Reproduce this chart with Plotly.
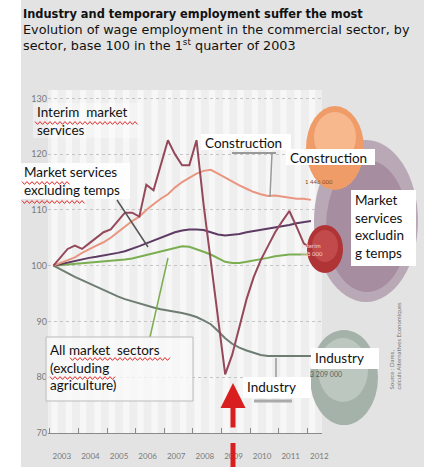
# plot.py

import plotly.graph_objects as go

# ---------------------------------------------------------------------
# DATA: wage employment, base 100 in 2003 Q1 (quarterly, 2003Q1 .. 2012Q1)
# ---------------------------------------------------------------------

quarters = [f"{y}-{m:02d}-15" for y in range(2003, 2013) for m in (2, 5, 8, 11)][:37]

interim = [100, 101.5, 103, 103.6, 103, 104, 105, 106, 106.5, 108, 109.5, 109.5,
           108.8, 114.5, 113.5, 118, 122.5, 120, 118, 118, 122.5, 111, 101, 90,
           80.5, 84, 89, 94, 98, 101, 103.5, 106, 108, 109.8, 107, 104, 103]

construction = [100, 100.5, 101, 101.5, 102.3, 103, 103.6, 104.2, 105, 106, 107, 108,
                108.8, 110, 111, 112, 112.8, 114, 115, 115.8, 116.5, 117, 117.2, 116.5,
                115.8, 115, 114.4, 113.8, 113.2, 112.8, 112.5, 112.6, 112.4, 112.2, 112, 112, 111.8]

services_excl_temps = [100, 100.3, 100.6, 100.9, 101.2, 101.4, 101.6, 101.8, 102, 102.3, 102.6, 103,
                       103.5, 104, 104.5, 105, 105.6, 106, 106.3, 106.5, 106.5, 106.4, 106, 105.6,
                       105.4, 105.5, 105.7, 106, 106.2, 106.4, 106.6, 106.8, 107, 107.3, 107.6, 107.8, 108]

all_sectors = [100, 100.1, 100.2, 100.3, 100.4, 100.5, 100.6, 100.7, 100.8, 100.9, 101.1, 101.3,
               101.6, 101.9, 102.2, 102.5, 102.8, 103.2, 103.5, 103.4, 103, 102.5, 102, 101.3,
               100.7, 100.5, 100.5, 100.7, 100.9, 101.1, 101.4, 101.7, 101.9, 102, 102, 102, 102]

industry = [100, 99.3, 98.6, 98, 97.4, 96.8, 96.2, 95.6, 95, 94.5, 94, 93.6,
            93.2, 92.8, 92.5, 92.2, 92, 91.8, 91.5, 91.2, 90.8, 90.2, 89.5, 88.3,
            87, 86, 85.3, 84.8, 84.4, 84, 83.8, 83.8, 83.9, 83.9, 83.9, 83.8, 83.8]

years = ["2003", "2004", "2005", "2006", "2007", "2008", "2009", "2010", "2011", "2012"]
y_ticks = [70, 80, 90, 100, 110, 120, 130]

headcounts = {"construction": "1 446 000", "interim": "568 000", "industry": "3 209 000"}

# ---------------------------------------------------------------------
# LAYOUT HELPERS (pixel -> paper)
# ---------------------------------------------------------------------

W, H = 424, 467
L, R, T, B = 48, 102, 90, 34
FONT = "Lato"


def px(x):
    return (x - L) / (W - L - R)


def py(y):
    return (H - B - y) / (H - T - B)


series = [
    ("Industry", industry, "#6e7d72"),
    ("All market sectors", all_sectors, "#7aae50"),
    ("Market services excluding temps", services_excl_temps, "#5e3b63"),
    ("Construction", construction, "#e9957f"),
    ("Interim market services", interim, "#94485a"),
]

fig = go.Figure()
for name, values, color in series:
    fig.add_trace(go.Scatter(x=quarters, y=values, mode="lines", name=name,
                             line=dict(color=color, width=2), hoverinfo="skip"))

shapes = []
ann = []

# white margin on the left
shapes.append(dict(type="rect", xref="paper", yref="paper", x0=px(0), x1=px(21),
                   y0=py(0), y1=py(H), fillcolor="white", line_width=0, layer="below"))

# vertical stripes in the plot area
for y in years:
    for a, b in (("01-20", "04-10"), ("07-20", "10-10")):
        shapes.append(dict(type="rect", xref="x", yref="paper", x0=f"{y}-{a}", x1=f"{y}-{b}",
                           y0=0, y1=1, fillcolor="rgba(255,255,255,0.55)", line_width=0,
                           layer="below"))


def ellipse(x0, y0, x1, y1, color):
    return dict(type="circle", xref="paper", yref="paper", x0=px(x0), x1=px(x1),
                y0=py(y0), y1=py(y1), fillcolor=color, line_width=0, layer="above")


# bubbles
shapes += [
    ellipse(314, 140, 418, 302, "#b9a9b6"),
    ellipse(326, 160, 408, 292, "#a68da0"),
    ellipse(306, 106, 364, 190, "#f09c68"),
    ellipse(314, 112, 356, 162, "#f7b88e"),
    ellipse(307, 225, 343, 273, "#b03436"),
    ellipse(312, 230, 338, 262, "#c24a4a"),
    ellipse(310, 330, 378, 425, "#a4b2a9"),
    ellipse(318, 338, 368, 402, "#bcc7c0"),
]


def seg(x0, y0, x1, y1, color, width=1.2):
    return dict(type="line", xref="paper", yref="paper", x0=px(x0), y0=py(y0),
                x1=px(x1), y1=py(y1), line=dict(color=color, width=width), layer="above")


# leader lines from the call-outs
shapes += [
    seg(117, 200, 148, 247, "#555555", 1.5),
    seg(150, 337, 168, 258, "#7aae50", 1.5),
    seg(232, 153, 276, 153, "#999999", 2),
    seg(272, 153, 270, 197, "#999999", 1.5),
    seg(276, 358, 276, 378, "#999999", 1.5),
    seg(254, 401, 292, 401, "#aaaaaa", 3),
]


def label(box, top, text, fill="white", line=None, size=13.5):
    x0, x1, y0, y1 = box
    shapes.append(dict(type="rect", xref="paper", yref="paper", x0=px(x0), x1=px(x1),
                       y0=py(y0), y1=py(y1), fillcolor=fill, layer="above",
                       line=dict(color=line or "rgba(0,0,0,0)", width=1)))
    ann.append(dict(xref="paper", yref="paper", x=px(x0 + 2), y=py(top), xanchor="left",
                    yanchor="top", align="left", showarrow=False, text=text,
                    font=dict(family=FONT, size=size, color="#111111")))


label((33, 140, 103, 138), 102, "Interim  market<br>services", fill="rgba(255,255,255,0.35)")
label((20, 130, 163, 199), 162, "Market services<br>excluding temps", fill="rgba(255,255,255,0.85)")
label((201, 291, 134, 150), 133, "Construction")
label((286, 375, 149, 165), 148, "Construction")
label((351, 416, 190, 266), 190, "Market<br>services<br>excludin<br>g temps")
label((46, 193, 337, 401), 340, "All market  sectors<br>(excluding<br>agriculture)",
      fill="rgba(250,250,250,0.75)", line="#bbbbbb")
label((311, 379, 348, 369), 348, "Industry")
label((243, 311, 377, 398), 377, "Industry")


def squiggle(x0, x1, y, amp=1.4, step=2.5):
    pts = []
    x, up = x0, True
    while x <= x1:
        pts.append(f"{px(x):.4f},{py(y - amp if up else y + amp):.4f}")
        x += step
        up = not up
    return dict(type="path", xref="paper", yref="paper", layer="above",
                path="M" + " L".join(pts), line=dict(color="#e02828", width=1))


# red spell-check underlines
for x0, x1, y in ((35, 138, 123), (22, 70, 183), (22, 86, 202), (70, 172, 359), (50, 117, 378)):
    shapes.append(squiggle(x0, x1, y))

# red arrow shaft below the axis
shapes.append(dict(type="rect", xref="paper", yref="paper", x0=px(230.5), x1=px(235.5),
                   y0=py(443), y1=py(467), fillcolor="#d81e1e", line_width=0, layer="above"))

# ---------------------------------------------------------------------
# TEXT
# ---------------------------------------------------------------------

title_lines = [
    ("<b>Industry and temporary employment suffer the most</b>", 14, 11.4),
    ("Evolution of wage employment in the commercial sector, by", 29.5, 12.8),
    ("sector, base 100 in the 1<sup>st</sup> quarter of 2003", 45, 12.8),
]
for text, yc, size in title_lines:
    ann.append(dict(xref="paper", yref="paper", x=px(21), y=py(yc), xanchor="left",
                    yanchor="middle", align="left", showarrow=False, text=text,
                    font=dict(family="DejaVu Sans", size=size, color="#111111")))

# figures inside the bubbles
ann += [
    dict(xref="paper", yref="paper", x=px(335), y=py(176), showarrow=False,
         text=headcounts["construction"], font=dict(family=FONT, size=6, color="#8a4a20")),
    dict(xref="paper", yref="paper", x=px(325), y=py(249), showarrow=False,
         text="Interim<br>" + headcounts["interim"], font=dict(family=FONT, size=6, color="#f4d0d0")),
    dict(xref="paper", yref="paper", x=px(344), y=py(380), showarrow=False,
         text=headcounts["industry"], font=dict(family=FONT, size=7, color="#556058")),
]

# source, rotated
ann.append(dict(xref="paper", yref="paper", x=px(404), y=py(392), showarrow=False,
                textangle=-90, align="left",
                text="Source : Dares,<br>calculs Alternatives Economiques",
                font=dict(family=FONT, size=6, color="#777777")))

# red arrow pointing at the 2009 trough
ann.append(dict(xref="paper", yref="paper", x=px(233), y=py(383), ax=0, ay=46,
                text="", showarrow=True, arrowhead=2, arrowsize=1, arrowwidth=5,
                arrowcolor="#d81e1e"))

fig.update_layout(shapes=shapes, annotations=ann)

# ---------------------------------------------------------------------
# AXES
# ---------------------------------------------------------------------

fig.update_xaxes(
    type="date",
    range=["2002-12-07", "2012-07-05"],
    tickvals=[f"{y}-06-01" for y in years],
    ticktext=years,
    ticks="", showgrid=False, zeroline=False, automargin=False,
    showline=True, linecolor="#8a8a8a", linewidth=1,
    ticklabelstandoff=15,
    tickfont=dict(family=FONT, size=8, color="#7a7a7a"),
    minor=dict(dtick="M12", tick0="2003-01-01", ticks="inside", ticklen=5,
               tickcolor="#8a8a8a", showgrid=False),
)
fig.update_yaxes(
    range=[70, 131.5], tickvals=y_ticks, ticks="", showline=False, zeroline=False,
    automargin=False, gridcolor="#c4c4c4", griddash="dot", gridwidth=1,
    tickfont=dict(family=FONT, size=9, color="#7a7a7a"),
)

fig.update_layout(
    width=W, height=H,
    margin=dict(l=L, r=R, t=T, b=B),
    paper_bgcolor="#e3e3e3",
    plot_bgcolor="#eeeeee",
    showlegend=False,
)

fig.write_html("out.html", config={"displayModeBar": False},
               post_script="document.body.style.margin='0';")
